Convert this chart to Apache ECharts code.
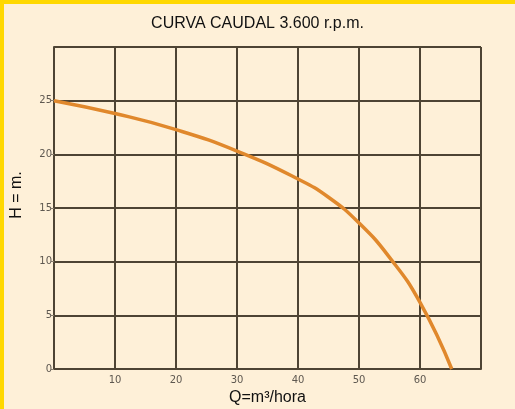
<!DOCTYPE html>
<html>
<head>
<meta charset="utf-8">
<script src="https://cdn.jsdelivr.net/npm/echarts@6/dist/echarts.min.js"></script>
<style>
html,body{margin:0;padding:0;background:#fef0d8;}
#wrap{position:absolute;left:0;top:0;width:511px;height:405px;border-left:4px solid #ffd800;border-top:4px solid #ffd800;background:#fef0d8;}
#c{position:absolute;left:-4px;top:-4px;width:515px;height:409px;}
</style>
</head>
<body>
<div id="wrap"><div id="c"></div></div>
<script>
const titleText = 'CURVA CAUDAL 3.600 r.p.m.';
const xName = 'Q=m³/hora';
const yName = 'H = m.';
const flow = [0, 10, 20, 30, 40, 45, 50, 55, 60, 65.2];
const head = [25, 23.8, 22.3, 20.3, 17.7, 16.0, 13.6, 10.4, 6.2, 0];

const chart = echarts.init(document.getElementById('c'));
const gridColor = '#4e4434';
chart.setOption({
  backgroundColor: 'transparent',
  animation: false,
  title: {
    text: titleText, left: 'center', top: 11,
    textStyle: {fontFamily: 'Liberation Sans', fontSize: 16, fontWeight: 'normal', color: '#111'}
  },
  grid: {left: 54, top: 47, right: 34, bottom: 40, outerBoundsMode: 'none', containLabel: false},
  xAxis: {
    type: 'value', min: 0, max: 70, interval: 10,
    name: xName, nameLocation: 'middle', nameGap: 21,
    nameTextStyle: {fontFamily: 'Liberation Sans', fontSize: 16, color: '#111'},
    axisLine: {show: true, lineStyle: {color: gridColor, width: 2}},
    axisTick: {show: false},
    splitLine: {show: true, lineStyle: {color: gridColor, width: 2}},
    axisLabel: {showMinLabel: false, showMaxLabel: false, color: '#5e5850', fontSize: 10, fontFamily: 'DejaVu Sans', margin: 6}
  },
  yAxis: {
    type: 'value', min: 0, max: 30, interval: 5,
    name: yName, nameLocation: 'middle', nameGap: 29, nameRotate: 90,
    nameTextStyle: {fontFamily: 'Liberation Sans', fontSize: 16, color: '#111', padding: [0, 0, 0, 26]},
    axisLine: {show: true, lineStyle: {color: gridColor, width: 2}},
    axisTick: {show: true, length: 3, lineStyle: {color: '#8a8070', width: 1}},
    splitLine: {show: true, lineStyle: {color: gridColor, width: 2}},
    axisLabel: {showMaxLabel: false, color: '#5e5850', fontSize: 10, fontFamily: 'DejaVu Sans', margin: 2}
  },
  series: [{
    type: 'line',
    data: flow.map((q, i) => [q, head[i]]),
    smooth: 0.5,
    showSymbol: false,
    lineStyle: {color: '#e0882c', width: 3.5},
    z: 5
  }]
});
</script>
</body>
</html>
